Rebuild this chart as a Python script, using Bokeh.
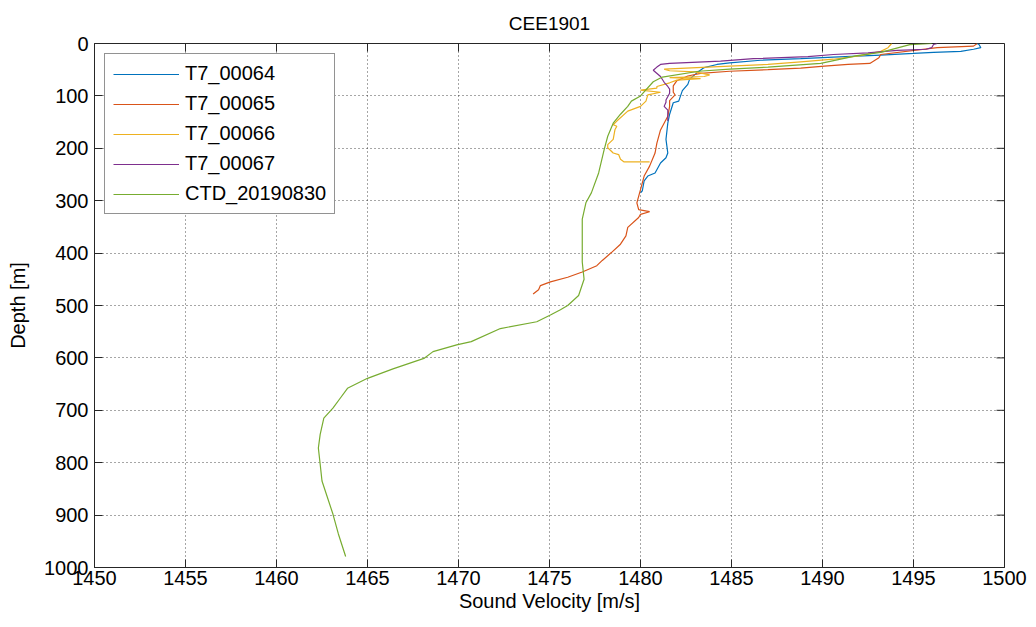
import math
from bokeh.plotting import figure
from bokeh.models import Range1d, SingleIntervalTicker, Legend, LegendItem
from bokeh.embed import file_html
from bokeh.resources import INLINE

# ---------------- data ----------------
depth_64 = [0, 2, 8, 11, 15, 17, 19, 22, 26, 29, 32, 37, 40, 46, 56, 68, 78, 90, 110, 113,
            135, 152, 183, 209, 218, 228, 247, 253, 262, 281, 285]
vel_64 = [1498.5, 1498.6, 1498.7, 1498.3, 1497.6, 1496.1, 1495.0, 1493.2, 1490.6, 1488.8,
          1486.6, 1484.9, 1484.2, 1483.5, 1483.1, 1482.7, 1482.6, 1482.3, 1482.1, 1481.8,
          1481.6, 1481.5, 1481.4, 1481.5, 1481.4, 1481.1, 1480.8, 1480.4, 1480.2, 1480.1, 1480.0]

depth_65 = [0, 5, 8, 21, 27, 38, 40, 43, 47, 50, 53, 57, 62, 71, 81, 93, 98, 109, 120, 139,
            165, 190, 209, 234, 253, 279, 304, 317, 321, 326, 332, 351, 367, 383, 399, 414,
            424, 436, 446, 455, 462, 470, 478]
vel_65 = [1498.5, 1498.3, 1496.3, 1493.2, 1493.1, 1492.6, 1491.4, 1490.1, 1488.8, 1487.0,
          1484.9, 1483.3, 1482.6, 1482.0, 1481.8, 1481.8, 1481.9, 1481.6, 1481.6, 1481.5,
          1481.1, 1480.9, 1480.8, 1480.5, 1480.2, 1480.0, 1479.8, 1479.9, 1480.5, 1480.0,
          1479.9, 1479.3, 1479.2, 1478.9, 1478.4, 1477.9, 1477.6, 1476.8, 1476.0, 1475.05,
          1474.5, 1474.4, 1474.1]

depth_66 = [0, 8, 15, 23, 30, 35, 40, 43, 47, 49, 52, 54, 60, 63, 65, 67, 70, 75, 82, 85,
            89, 93, 98, 110, 120, 129, 148, 155, 158, 164, 183, 193, 199, 209, 212, 221, 226, 226]
vel_66 = [1493.8, 1493.6, 1493.2, 1492.1, 1490.6, 1488.8, 1487.0, 1484.9, 1482.5, 1481.3,
          1481.6, 1483.0, 1483.8, 1483.5, 1481.6, 1483.3, 1482.0, 1481.6, 1480.9, 1480.9,
          1480.0, 1481.1, 1480.4, 1480.3, 1480.0, 1479.3, 1478.7, 1478.5, 1478.7, 1478.6,
          1478.5, 1478.2, 1478.2, 1478.5, 1478.8, 1478.9, 1479.1, 1480.5]

depth_67 = [0, 2, 8, 11, 13, 18, 21, 25, 29, 33.5, 38, 40, 45, 51, 63, 74, 82, 87, 95, 108,
            112, 120, 127, 139, 148]
vel_67 = [1496.3, 1496.1, 1496.0, 1495.7, 1494.1, 1492.5, 1490.6, 1489.2, 1486.2, 1484.4,
          1481.6, 1481.1, 1480.9, 1480.7, 1481.1, 1481.3, 1481.5, 1481.6, 1481.6, 1481.4,
          1481.4, 1481.3, 1481.5, 1481.5, 1481.5]

depth_ctd = [0, 2, 17, 23, 38, 45, 49, 53, 64, 73, 100, 110, 120, 135, 152, 177, 203, 247,
             285, 304, 335, 366, 417, 450, 481, 500, 508, 518, 531, 544, 569, 575, 588, 601,
             621, 639, 658, 677, 696, 715, 746, 772, 803, 835, 898, 936, 979]
vel_ctd = [1496.0, 1494.8, 1493.2, 1491.9, 1489.9, 1487.0, 1484.9, 1483.2, 1481.2, 1480.7,
           1480.0, 1479.5, 1479.3, 1478.9, 1478.5, 1478.2, 1478.0, 1477.7, 1477.3, 1477.0,
           1476.8, 1476.8, 1476.8, 1476.9, 1476.6, 1476.0, 1475.6, 1475.05, 1474.3, 1472.3,
           1470.7, 1469.9, 1468.6, 1468.1, 1466.4, 1465.0, 1463.9, 1463.5, 1463.1, 1462.6,
           1462.4, 1462.3, 1462.4, 1462.5, 1463.1, 1463.4, 1463.8]

series_names = ["T7_00064", "T7_00065", "T7_00066", "T7_00067", "CTD_20190830"]
series_colors = ["#0072BD", "#D95319", "#EDB120", "#7E2F8E", "#77AC30"]
x_ticks = [1450, 1455, 1460, 1465, 1470, 1475, 1480, 1485, 1490, 1495, 1500]
y_ticks = [0, 100, 200, 300, 400, 500, 600, 700, 800, 900, 1000]
title_text = "CEE1901"
x_label = "Sound Velocity [m/s]"
y_label = "Depth [m]"

FONT = "Liberation Sans"
AX = "#262626"

x0, x1 = x_ticks[0], x_ticks[-1]
y0, y1 = y_ticks[0], y_ticks[-1]

p = figure(width=1036, height=627, output_backend="svg", toolbar_location=None,
           x_range=Range1d(x0, x1), y_range=Range1d(y1, y0),
           min_border_left=94, min_border_right=32, min_border_top=40, min_border_bottom=60,
           x_axis_label=x_label, y_axis_label=y_label)
p.background_fill_color = "white"
p.border_fill_color = "white"
p.outline_line_color = AX
p.outline_line_width = 1

p.title.text = title_text
p.title.align = "center"
p.title.text_font = FONT
p.title.text_font_size = "19px"
p.title.text_font_style = "normal"
p.title.text_color = "#000000"
p.title.standoff = 20

p.xaxis.ticker = SingleIntervalTicker(interval=5, num_minor_ticks=0)
p.yaxis.ticker = SingleIntervalTicker(interval=100, num_minor_ticks=0)

for ax in (p.xaxis[0], p.yaxis[0]):
    ax.major_tick_in = 8
    ax.major_tick_out = 0
    ax.minor_tick_in = 0
    ax.minor_tick_out = 0
    ax.axis_line_color = AX
    ax.major_tick_line_color = AX
    ax.major_label_text_font = FONT
    ax.major_label_text_font_size = "20px"
    ax.major_label_text_color = "#000000"
    ax.axis_label_text_font = FONT
    ax.axis_label_text_font_size = "20px"
    ax.axis_label_text_font_style = "normal"
    ax.axis_label_text_color = "#000000"
p.xaxis.major_label_standoff = 3
p.xaxis.axis_label_standoff = 2
p.yaxis.major_label_standoff = 6
p.yaxis.axis_label_standoff = 12

p.xgrid.grid_line_color = "#222222"
p.ygrid.grid_line_color = "#222222"
p.xgrid.grid_line_dash = "1 3"
p.ygrid.grid_line_dash = "1 3"
p.xgrid.grid_line_alpha = 0.8
p.ygrid.grid_line_alpha = 0.8

all_data = [(vel_64, depth_64), (vel_65, depth_65), (vel_66, depth_66),
            (vel_67, depth_67), (vel_ctd, depth_ctd)]
items = []
for (xs, ys), name, col in zip(all_data, series_names, series_colors):
    r = p.line(xs, ys, line_color=col, line_width=1.2)
    items.append(LegendItem(label=name, renderers=[r]))

# box ticks on the top and right edges (inward)
p.ray(x=x_ticks, y=[y0] * len(x_ticks), length=8, length_units="screen",
      angle=-math.pi / 2, line_color=AX, line_width=1)
p.ray(x=[x1] * len(y_ticks), y=y_ticks, length=8, length_units="screen",
      angle=math.pi, line_color=AX, line_width=1)

legend = Legend(items=items, location="top_left")
legend.label_text_font = FONT
legend.label_text_font_size = "20px"
legend.label_text_color = "#000000"
legend.border_line_color = AX
legend.border_line_width = 1
legend.background_fill_color = "white"
legend.background_fill_alpha = 1
legend.glyph_width = 66
legend.glyph_height = 20
legend.label_height = 20
legend.label_standoff = 6
legend.spacing = 7
legend.padding = 8
legend.margin = 10
p.add_layout(legend)

open("out.html", "w").write(file_html(p, INLINE))
